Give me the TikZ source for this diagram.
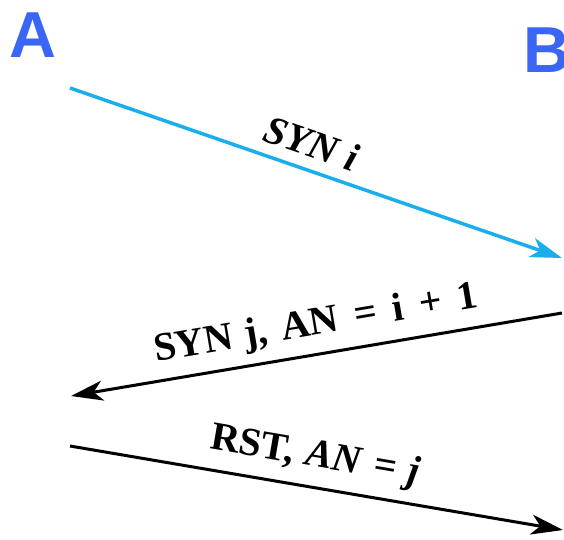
\documentclass[tikz,border=0pt]{standalone}
\usepackage{fontspec}
\setmainfont{Liberation Serif}
\newfontfamily\endfont{Liberation Sans}
\usetikzlibrary{arrows.meta}
\definecolor{endblue}{HTML}{3A66F5}
\definecolor{msgcyan}{HTML}{1AAEEC}
\begin{document}
\begin{tikzpicture}[x=1pt,y=-1pt,
  endpoint/.style={font=\endfont\bfseries\fontsize{65}{65}\selectfont, text=endblue, inner sep=0pt},
  msg/.style={line width=3pt, -{Stealth[length=32pt,width=20pt,inset=9pt]}},
  lbl/.style={font=\fontsize{40}{40}\selectfont\bfseries, inner sep=0pt}]
\useasboundingbox (0,0) rectangle (564,539);
\node[endpoint] (A) at (33,35) {A};
\node[endpoint] (B) at (547,50) {B};
\coordinate (s1) at (70,88);
\coordinate (e1) at (562,258);
\coordinate (s2) at (562,313);
\coordinate (e2) at (71,396);
\coordinate (s3) at (70,446);
\coordinate (e3) at (563,530);
\draw[msg, draw=msgcyan, line width=3.5pt] (s1) -- (e1);
\draw[msg, draw=black] (s2) -- (e2);
\draw[msg, draw=black] (s3) -- (e3);
\node[lbl, rotate=-19] (l1) at (312,143) {\itshape SYN~i};
\node[lbl, rotate=9.6] (l2) at (316,325) {SYN\hspace{0.3em}j,\hspace{0.35em}AN\hspace{0.4em}=\hspace{0.4em}i\hspace{0.4em}+\hspace{0.4em}1};
\node[lbl, rotate=-9.7] (l3) at (315,457) {RST,\hspace{0.3em}\textit{AN}\hspace{0.3em}=\hspace{0.3em}\textit{j}};
\end{tikzpicture}
\end{document}
